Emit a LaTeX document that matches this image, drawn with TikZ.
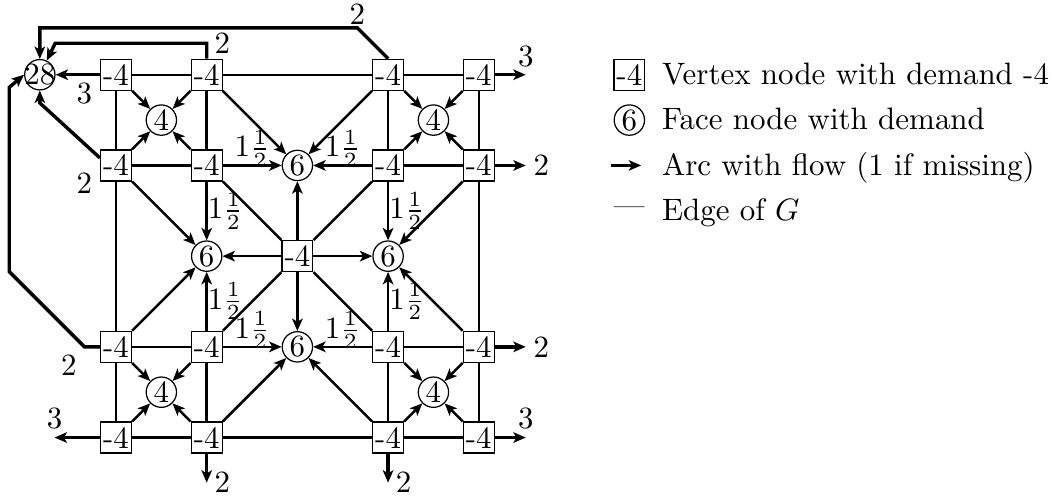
\documentclass[tikz,border=0pt]{standalone}
\usepackage{amsmath}
\usepackage{amssymb}
\usepackage{tikz}
\usetikzlibrary{arrows.meta}

\tikzset{
  vtx/.style={draw,fill=white,minimum size=10pt,inner sep=0.5pt},
  face/.style={draw,circle,minimum size=9.8pt,inner sep=0pt},
  tip/.style={-{Stealth[length=4pt,width=3.4pt,inset=1pt]}},
  edge/.style={thick},
  arc/.style={thick,tip},
  bnd/.style={line width=1.1pt,tip},
  lbl/.style={inner sep=2pt},
  half/.style={inner sep=0pt},
  txt/.style={anchor=base west,yshift=-3.2pt},
}

\begin{document}
\begin{tikzpicture}[x=1.03cm,y=1.03cm]
  \useasboundingbox (-1.279,-0.634) rectangle (10.386,4.824);
  % vertex nodes
  \foreach \x in {0,1,3,4}
    \foreach \y in {0,1,3,4}
      \node[vtx] (v\x\y) at (\x,\y) {-4};
  \node[vtx] (v22) at (2,2) {-4};
  % face nodes
  \node[face] (g00) at (0.5,0.5) {4};
  \node[face] (g30) at (3.5,0.5) {4};
  \node[face] (g03) at (0.5,3.5) {4};
  \node[face] (g33) at (3.5,3.5) {4};
  \node[face] (ft) at (2,3) {6};
  \node[face] (fl) at (1,2) {6};
  \node[face] (fr) at (3,2) {6};
  \node[face] (fb) at (2,1) {6};
  \node[face] (s) at (-0.84,4) {\makebox[5pt]{28}};

  % edges of G
  \draw[edge] (v04) -- (v14) -- (v34) -- (v44);
  \draw[edge] (v00) -- (v10) -- (v30) -- (v40);
  \draw[edge] (v00) -- (v01) -- (v03) -- (v04);
  \draw[edge] (v40) -- (v41) -- (v43) -- (v44);
  \draw[edge] (v03) -- (v13) -- (v14);
  \draw[edge] (v43) -- (v33) -- (v34);
  \draw[edge] (v01) -- (v11) -- (v10);
  \draw[edge] (v41) -- (v31) -- (v30);
  \draw[edge] (v13) -- (v22) -- (v31);
  \draw[edge] (v33) -- (v22) -- (v11);

  % arcs into the small faces
  \foreach \f/\a/\b/\c/\d in {g00/v00/v10/v01/v11, g30/v30/v40/v31/v41,
                              g03/v03/v13/v04/v14, g33/v33/v43/v34/v44}
    \foreach \v in {\a,\b,\c,\d}
      \draw[arc] (\v) -- (\f);

  % arcs into the big faces
  \draw[arc] (v13) -- node[half,above=-1pt] {$1\frac12$} (ft);
  \draw[arc] (v33) -- node[half,above=-1pt] {$1\frac12$} (ft);
  \draw[arc] (v14) -- (ft);
  \draw[arc] (v34) -- (ft);
  \draw[arc] (v22) -- (ft);
  \draw[arc] (v13) -- node[half,right] {$1\frac12$} (fl);
  \draw[arc] (v11) -- node[half,right] {$1\frac12$} (fl);
  \draw[arc] (v03) -- (fl);
  \draw[arc] (v01) -- (fl);
  \draw[arc] (v22) -- (fl);
  \draw[arc] (v33) -- node[half,right] {$1\frac12$} (fr);
  \draw[arc] (v31) -- node[half,right] {$1\frac12$} (fr);
  \draw[arc] (v43) -- (fr);
  \draw[arc] (v41) -- (fr);
  \draw[arc] (v22) -- (fr);
  \draw[arc] (v11) -- node[half,above=-1pt] {$1\frac12$} (fb);
  \draw[arc] (v31) -- node[half,above=-1pt] {$1\frac12$} (fb);
  \draw[arc] (v10) -- (fb);
  \draw[arc] (v30) -- (fb);
  \draw[arc] (v22) -- (fb);

  % flow into the outer face
  \draw[bnd] (v04) -- node[lbl,below,pos=.35] {3} (s);
  \draw[bnd] (v14.north) -- ++(0,0.17) node[lbl,right] {2} -- ++(-1.67,0) -- (s);
  \draw[bnd] (v34.north) -- ++(-0.34,0.34) node[lbl,above,inner sep=0.5pt] {2} -| (s);
  \draw[bnd] (v03.west) node[lbl,below left] {2}
    (v03.155) -- ([yshift=-4pt]s.south) -- (s);
  \draw[bnd] (v01.west) -- ++(-0.17,0) node[lbl,below left] {2}
    -- ++(-0.83,0.83) -- ++(0,2.03) -- (s.west);
  \draw[bnd] (v00.west) -- ++(-0.5,0) node[lbl,above] {3};
  \draw[bnd] (v10.south) -- ++(0,-0.32) node[lbl,right] {2};
  \draw[bnd] (v30.south) -- ++(0,-0.32) node[lbl,right] {2};
  \draw[bnd] (v40.east) -- ++(0.34,0) node[lbl,above] {3};
  \draw[bnd] (v41.east) -- ++(0.34,0) node[lbl,right] {2};
  \draw[bnd] (v43.east) -- ++(0.34,0) node[lbl,right] {2};
  \draw[bnd] (v44.east) -- ++(0.34,0) node[lbl,above] {3};

  % legend
  \node[vtx] (lv) at (5.66,4) {-4};
  \node[txt] (t1) at (5.9,4) {Vertex node with demand -4};
  \node[face] (lf) at (5.66,3.5) {6};
  \node[txt] (t2) at (5.9,3.5) {Face node with demand};
  \coordinate (la) at (5.46,3);
  \coordinate (lb) at (5.79,3);
  \draw[arc] (la) -- (lb);
  \node[txt] (t3) at (5.9,3) {Arc with flow (1 if missing)};
  \node (le) at (5.66,2.5) {---};
  \node[txt] (t4) at (5.9,2.5) {Edge of $G$};
\end{tikzpicture}
\end{document}
